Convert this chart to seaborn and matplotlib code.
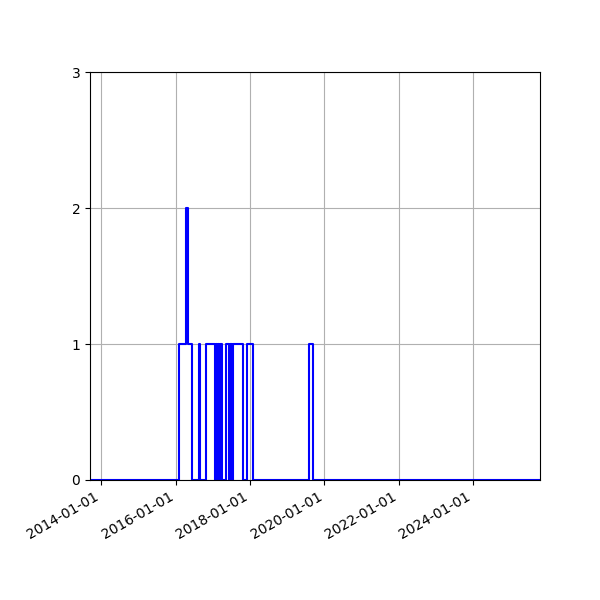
import pandas as pd
import matplotlib
matplotlib.use("Agg")
import matplotlib.pyplot as plt
import matplotlib.dates as mdates
import seaborn as sns

# Dates where the count changes, and the count from that date on
dates = [
    "2013-09-12", "2016-01-30", "2016-04-14", "2016-05-04", "2016-06-12",
    "2016-08-17", "2016-08-27", "2016-10-21", "2017-01-19", "2017-01-29",
    "2017-02-08", "2017-02-21", "2017-03-05", "2017-03-15", "2017-03-30",
    "2017-05-07", "2017-06-11", "2017-06-21", "2017-07-06", "2017-07-16",
    "2017-10-29", "2017-12-07", "2018-01-29", "2019-08-05", "2019-09-16",
    "2025-10-20",
]
counts = [
    0, 1, 2, 1, 0,
    1, 0, 1, 0, 1,
    0, 1, 0, 1, 0,
    1, 0, 1, 0, 1,
    0, 1, 0, 1, 0,
    0,
]
y_ticks = [0, 1, 2, 3]

df = pd.DataFrame({"date": pd.to_datetime(dates), "count": counts})

fig, ax = plt.subplots(figsize=(6, 6), dpi=100)
sns.lineplot(data=df, x="date", y="count", color="blue",
             drawstyle="steps-post", linewidth=1.5, ax=ax)

ax.set_xlim(df["date"].min(), df["date"].max())
ax.set_ylim(0, 3)
ax.set_yticks(y_ticks)
ax.xaxis.set_major_locator(mdates.YearLocator(2))
ax.xaxis.set_major_formatter(mdates.DateFormatter("%Y-%m-%d"))
ax.set_xlabel("")
ax.set_ylabel("")
ax.grid(True)
fig.autofmt_xdate()
fig.subplots_adjust(left=0.15, right=0.9, top=0.88, bottom=0.2)

fig.savefig("out.png")
